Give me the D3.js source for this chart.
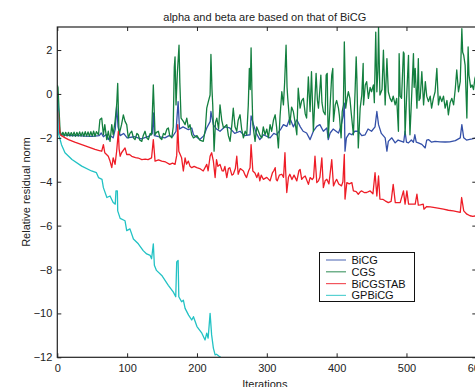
<!DOCTYPE html>
<html><head><meta charset="utf-8">
<script src="https://cdn.jsdelivr.net/npm/d3@7"></script>
<style>body{margin:0;background:#fff}svg{display:block;font-family:Arial,"Liberation Sans",sans-serif}</style>
</head><body><svg id="c" width="475" height="387"></svg>
<script>
const title = "alpha and beta are based on that of BiCG";
const xLabel = "Iterations";
const yLabel = "Relative residual norm";
const xTicks = [0,100,200,300,400,500,600];
const yTicks = [-12,-10,-8,-6,-4,-2,0,2];
const seriesNames = ["BiCG","CGS","BiCGSTAB","GPBiCG"];

const bicg = [[0,0.0],[1,-0.2],[3,-1.75],[5,-1.85],[10,-1.88],[20,-1.9],[30,-1.9],[40,-1.92],[50,-1.93],[60,-1.9],[63,-1.78],[66,-1.95],[70,-1.85],[73,-2.08],[76,-1.9],[80,-2.0],[83,-1.6],[85,-0.57],[87,-1.5],[90,-1.9],[95,-1.8],[100,-2.0],[110,-1.95],[120,-2.05],[130,-1.95],[136,-1.8],[137.5,-0.86],[139,-1.9],[145,-1.95],[154,-2.0],[160,-1.9],[165,-1.95],[170,-1.7],[173,-0.35],[175,-1.6],[180,-1.5],[187.7,-1.63],[192.5,-1.55],[195,-1.86],[204,-2.08],[210,-1.9],[214,-1.55],[219,-1.25],[220,-0.8],[223.5,-1.40],[228,-1.6],[233,-1.7],[240,-1.5],[247,-1.55],[254,-1.8],[261.7,-1.7],[268,-1.9],[276,-1.86],[277.5,-1.0],[281,-1.40],[285,-1.8],[290,-2.08],[295,-1.86],[304.7,-2.0],[310,-1.8],[314,-1.86],[320,-1.6],[323.8,-1.40],[328.6,-1.48],[333,-1.1],[338,-1.5],[343,-1.18],[348,-1.5],[352,-1.7],[357,-1.78],[362,-2.08],[366.7,-1.7],[371.6,-1.48],[376,-1.40],[381,-1.7],[386,-1.55],[388,-2.08],[390.7,-1.78],[395,-1.6],[402.6,-1.78],[406,-1.5],[409.7,-0.95],[411,-0.42],[412,-2.61],[414,-2.0],[418,-1.8],[421.8,-1.86],[426,-1.7],[431,-1.7],[436,-1.9],[440.8,-1.86],[445,-1.6],[450,-1.7],[455,-1.5],[457.6,-0.8],[460,-1.40],[464,-1.8],[469.5,-2.0],[472,-2.61],[474,-2.16],[479,-2.0],[483.8,-2.23],[488,-2.1],[493,-2.16],[496,-2.2],[498,-1.7],[500,-2.2],[502.9,-2.23],[507,-2.1],[510,-2.2],[512,-1.86],[514,-2.2],[517,-2.23],[522,-2.3],[526.8,-2.46],[529,-2.1],[531.5,-2.08],[536,-2.2],[541,-2.16],[548,-2.18],[555.4,-2.19],[562,-2.18],[570,-2.13],[577,-2.0],[579.3,-1.40],[582,-2.0],[586,-2.1],[589,-2.08],[594,-2.05],[600,-2.0]];

const cgs = [[0,0.41],[1,0.3],[2.4,-0.65],[4,-1.70],[6,-1.9],[8,-1.75],[10,-1.92],[12,-1.75],[14,-1.92],[16,-1.75],[18,-1.92],[20,-1.76],[22,-1.92],[24,-1.74],[26,-1.93],[28,-1.75],[30,-1.92],[32,-1.73],[34,-1.92],[36,-1.74],[38,-1.93],[40,-1.72],[42,-1.92],[44,-1.73],[46,-1.93],[48,-1.72],[50,-1.92],[52,-1.7],[54,-1.93],[56,-1.72],[59,-1.86],[61,-1.18],[63.6,-1.10],[66,-1.86],[68,-1.40],[70.8,-2.08],[73,-1.70],[75.5,-2.16],[78,-1.40],[80,-1.86],[82.7,-1.25],[85,-0.5],[86.5,0.48],[88.4,-1.86],[92,-1.40],[94.6,-0.95],[97,-1.25],[99.4,-1.40],[101.7,-2.0],[104,-1.8],[106.6,-1.70],[109,-2.0],[111.3,-2.08],[114,-1.8],[116,-1.86],[118,-2.1],[121,-2.16],[123,-1.9],[125.6,-1.70],[128,-2.0],[130.4,-2.08],[133,-1.8],[135,-1.86],[137.5,0.41],[140,-1.86],[142,-1.75],[144.7,-1.70],[147,-2.0],[149.6,-2.08],[152,-1.8],[154.3,-1.86],[157,-1.6],[159,-1.55],[161,-1.9],[164,-2.0],[166,-1.5],[167.5,1.2],[168.6,1.69],[170,-0.5],[172,1.0],[174.3,2.22],[175.5,0.5],[177.2,-1.10],[180.5,-1.25],[183,-1.40],[185.4,-1.10],[187.7,-1.55],[190,-1.40],[192.5,-1.86],[195,-2.0],[200,-1.9],[204,-2.1],[209,-2.16],[212,-1.6],[214,-0.65],[216.3,-0.35],[218.8,-0.05],[220,1.80],[221.5,0.2],[222.6,-0.5],[224.5,-2.61],[226.5,-1.3],[228.4,-1.1],[231,-1.6],[233,-0.5],[235.5,-1.2],[238,-1.55],[242.7,-1.40],[245,-1.9],[247.4,-2.16],[250,-1.4],[252,-0.65],[254.5,-1.5],[257,-1.70],[259,-1.2],[261.7,-0.95],[264,-1.6],[266.5,-2.0],[269,-1.7],[271.3,-1.86],[273.5,-0.5],[275,1.16],[276.3,0.2],[277.5,2.10],[278.8,0.0],[280,-1.40],[283.2,-2.16],[285.6,-1.5],[288,-1.70],[290.5,-1.9],[292.8,-2.0],[295,-1.5],[297.5,-1.86],[300,-1.6],[302.3,-2.0],[304.7,-1.4],[307,-1.70],[309.5,-1.2],[312,-0.95],[314,-1.5],[316.6,-2.46],[319,-1.0],[321.5,0.1],[323.8,-0.5],[325.5,0.5],[327.6,2.22],[329,0.3],[330,-0.2],[333,-1.40],[335.5,-0.6],[338,-0.8],[340.5,-1.3],[343,-1.86],[345,0.26],[347.7,-0.65],[350,-0.3],[352.4,-0.2],[355,-0.9],[357,-1.1],[359.5,0.78],[362,-0.8],[364,1.01],[366.7,-1.70],[368.5,-0.5],[370.6,0.94],[372.5,-0.3],[374,-0.65],[376,0.2],[377.4,0.86],[379,-0.4],[381,-0.8],[383.6,-0.95],[385,0.86],[386.5,0.94],[387.5,-1.25],[388,-2.0],[390.7,-0.5],[393,0.86],[394.5,1.16],[395.5,-1.25],[398,-0.5],[400,-0.3],[402.6,-0.65],[404,-1.0],[406.4,-2.0],[408,-0.8],[409.7,-0.5],[411,2.37],[413,-0.65],[415,-0.2],[416.8,0.1],[419,-0.2],[421,-0.9],[424,-1.86],[426.4,0.1],[428,1.69],[429,0.71],[431,-2.46],[433.7,-0.65],[436,-0.05],[438,1.39],[438.5,-0.5],[441,0.41],[443,0.56],[445.5,-0.2],[448,0.3],[450,0.1],[452.7,0.41],[454,-0.4],[456,2.82],[457.6,0.1],[459,1.0],[460,3.05],[462,-0.05],[465,0.2],[467,1.99],[469.5,-0.5],[472,1.61],[474,0.1],[476.5,-0.2],[479,-0.35],[481,-0.1],[483.8,-0.5],[486,-0.2],[488.5,-1.7],[489.5,1.84],[491,-0.1],[493,-0.2],[495.6,1.91],[496.6,1.84],[497.5,-0.8],[498,-1.86],[500,-0.3],[502.9,1.76],[504,-0.6],[505,-1.86],[507.7,0.1],[510,1.84],[511,0.3],[512.5,1.16],[515,-0.65],[517,1.61],[518,-0.3],[519.6,-0.2],[522,1.01],[524.5,-0.5],[527,0.56],[529,-0.1],[531.5,-0.35],[534,-0.1],[536,-0.65],[538.5,-0.2],[541,0.1],[543.5,1.16],[545.8,-0.5],[548,-0.1],[550.6,-0.35],[553,-0.1],[555.4,-0.65],[558,-0.3],[560,-0.95],[562.5,-0.4],[565,-0.2],[567.5,-0.5],[570,0.26],[572,1.09],[574.5,0.1],[577,0.56],[579.3,2.97],[580.5,1.9],[582,1.76],[584,1.31],[586.5,-1.1],[588.3,2.14],[589.5,0.86],[592,0.3],[594,0.41],[596,0.2],[598,0.71],[600,0.9]];

const bicgstab = [[0,-0.72],[1.5,-0.9],[4,-1.86],[10,-1.98],[16,-2.08],[25,-2.2],[35,-2.31],[45,-2.42],[54,-2.53],[60,-2.58],[63.6,-2.61],[66,-2.31],[68,-2.68],[73,-2.84],[75.5,-3.06],[78,-3.36],[80,-2.91],[82.7,-3.21],[85,-2.61],[87.4,-1.71],[88.5,-2.5],[90,-2.84],[92,-2.68],[97,-2.46],[99.4,-2.76],[103,-2.75],[106.6,-2.84],[112,-2.9],[116,-2.92],[121,-2.99],[126,-2.97],[130,-2.99],[135,-2.91],[137.5,-2.08],[140,-3.06],[145,-3.0],[149.5,-3.06],[155,-3.1],[161,-3.21],[165,-3.15],[168.6,-3.21],[171,-2.8],[172.5,-1.40],[174,-2.61],[178,-2.91],[180.5,-3.51],[183,-2.91],[185,-3.2],[187.7,-3.06],[190,-3.29],[192.5,-3.36],[196,-3.3],[199.7,-3.36],[204,-3.4],[209,-3.51],[214,-3.21],[216,-3.5],[218.8,-2.84],[221,-2.68],[223.5,-3.06],[226,-3.81],[228,-2.99],[230,-3.3],[233,-3.21],[236,-3.5],[238,-3.51],[240,-3.3],[242.7,-3.81],[245,-3.4],[247,-3.36],[250,-3.7],[252,-3.66],[255,-3.4],[257,-2.84],[259,-3.66],[262,-3.4],[266.5,-3.51],[269,-3.7],[271,-3.81],[274,-3.5],[276,-3.36],[277.5,-2.31],[280,-3.51],[283,-3.6],[285.7,-3.81],[288,-3.6],[290,-3.96],[292,-3.7],[295,-3.89],[300,-3.8],[304.7,-3.96],[308,-3.6],[310,-3.5],[312,-3.36],[313.5,-3.9],[315,-3.96],[318,-3.7],[321.5,-3.66],[324,-3.8],[326,-2.68],[327,-3.5],[328.6,-4.49],[331,-3.8],[333,-3.66],[336,-3.9],[339,-3.7],[343,-3.96],[346,-3.5],[347.7,-3.44],[350,-3.89],[352,-3.81],[355,-3.74],[359.6,-4.12],[362,-3.81],[365,-3.9],[367,-3.81],[369,-2.84],[371.6,-4.04],[374,-3.96],[376,-3.8],[378.8,-2.91],[381,-4.27],[383.5,-3.96],[386,-3.89],[389,-4.1],[393,-2.99],[395.5,-4.19],[398,-4.0],[400,-3.89],[403,-4.1],[407,-4.19],[409,-4.0],[411,-2.76],[412,-4.79],[414.6,-4.04],[418,-4.1],[421.8,-4.04],[424,-4.42],[428,-4.45],[431,-4.57],[434,-4.45],[436,-4.42],[440,-4.5],[443,-4.49],[448,-4.42],[452,-4.55],[455,-3.59],[457.6,-4.65],[460,-3.74],[462,-4.79],[466,-4.8],[469.5,-4.87],[474,-4.95],[478,-4.9],[481,-4.12],[484,-4.95],[488,-4.95],[491,-4.95],[495.7,-4.42],[498,-5.02],[500.6,-4.42],[503,-5.02],[507.7,-5.02],[512.5,-5.02],[515,-4.57],[517,-5.07],[520,-5.05],[524,-5.02],[525,-5.25],[529,-5.13],[534,-5.15],[538.6,-5.17],[545,-5.2],[553,-5.25],[560,-5.3],[567,-5.33],[572,-5.36],[577,-5.40],[579,-4.72],[582,-5.33],[586.5,-5.48],[591,-5.55],[595,-5.58],[600,-5.55]];

const gpbicg = [[0,0.0],[1.5,-1.78],[6,-2.31],[11,-2.68],[21,-2.99],[35,-3.29],[49,-3.51],[56,-3.59],[59,-3.81],[64,-3.89],[66,-4.27],[71,-4.72],[75.5,-4.65],[80,-4.95],[83,-5.02],[84,-4.42],[86,-4.42],[86.5,-5.33],[90,-5.67],[97,-5.78],[99.4,-6.23],[104,-6.15],[109,-6.61],[116,-6.83],[123,-7.14],[128,-7.29],[133,-7.36],[135,-7.51],[136.7,-7.06],[137.5,-6.83],[139,-7.81],[142,-8.04],[149.6,-8.27],[159,-8.72],[166,-9.02],[169.6,-9.24],[171,-7.66],[173,-7.59],[174,-9.24],[178,-9.47],[180.5,-9.40],[183,-9.77],[188,-10.08],[192.5,-10.3],[195,-10.15],[200,-10.6],[207,-10.9],[211.6,-11.21],[214,-10.9],[216,-11.13],[218.8,-10.0],[221,-10.98],[223.5,-11.58],[226,-11.89],[228,-11.86],[231.7,-11.95],[234,-12.0]];

const seriesData = [bicg, cgs, bicgstab, gpbicg];
const colors = ["#3450a8","#137f3f","#ee1d27","#22c2c4"];

const svg = d3.select("#c");
const L = 57.3, R = 476.3, T = 27, B = 357.3;
const x = d3.scaleLinear().domain([0,600]).range([L,R]);
const y = d3.scaleLinear().domain([-12,3.05]).range([B,T]);

svg.append("defs").append("clipPath").attr("id","clip")
  .append("rect").attr("x",L).attr("y",T).attr("width",R-L).attr("height",B-T);

const line = d3.line().x(d=>x(d[0])).y(d=>y(d[1]));
const g = svg.append("g").attr("clip-path","url(#clip)");
seriesData.forEach((s,i)=>{
  g.append("path").datum(s).attr("d",line).attr("fill","none")
   .attr("stroke",colors[i]).attr("stroke-width",1.3).attr("stroke-linejoin","round");
});

function style(ax, labels){
  ax.select(".domain").remove();
  ax.selectAll("line").attr("stroke","#222").attr("stroke-width",1);
  if(labels) ax.selectAll("text").attr("font-size",11).attr("fill","#222");
  else ax.selectAll("text").remove();
}
svg.append("g").attr("transform",`translate(0,${B})`)
  .call(d3.axisBottom(x).tickValues(xTicks).tickSize(-4).tickPadding(7)).call(a=>style(a,true));
svg.append("g").attr("transform",`translate(0,${T})`)
  .call(d3.axisTop(x).tickValues(xTicks).tickSize(-4)).call(a=>style(a,false));
svg.append("g").attr("transform",`translate(${L},0)`)
  .call(d3.axisLeft(y).tickValues(yTicks).tickSize(-4).tickPadding(5)).call(a=>style(a,true));
svg.append("g").attr("transform",`translate(${R},0)`)
  .call(d3.axisRight(y).tickValues(yTicks).tickSize(-4)).call(a=>style(a,false));

svg.append("rect").attr("x",L).attr("y",T).attr("width",R-L).attr("height",B-T)
  .attr("fill","none").attr("stroke","#222").attr("stroke-width",1.2);

svg.append("text").attr("x",(L+R)/2-2).attr("y",20.5).attr("text-anchor","middle")
  .attr("font-size",11).attr("fill","#222").text(title);
svg.append("text").attr("x",(L+R)/2-2).attr("y",388).attr("text-anchor","middle")
  .attr("font-size",11).attr("fill","#222").text(xLabel);
svg.append("text").attr("transform",`translate(30,${(T+B)/2}) rotate(-90)`).attr("text-anchor","middle")
  .attr("font-size",11).attr("fill","#222").text(yLabel);

const lg = svg.append("g");
lg.append("rect").attr("x",319.5).attr("y",252.5).attr("width",95).attr("height",49)
  .attr("fill","#fff").attr("stroke","#111").attr("stroke-width",1);
seriesNames.forEach((n,i)=>{
  const yy = 260 + i*11.8;
  lg.append("line").attr("x1",326).attr("x2",346).attr("y1",yy).attr("y2",yy)
    .attr("stroke",colors[i]).attr("stroke-width",1.2).attr("opacity",0.75);
  lg.append("text").attr("x",351.5).attr("y",yy+4).attr("font-size",11).attr("fill","#111").text(n);
});
</script></body></html>
